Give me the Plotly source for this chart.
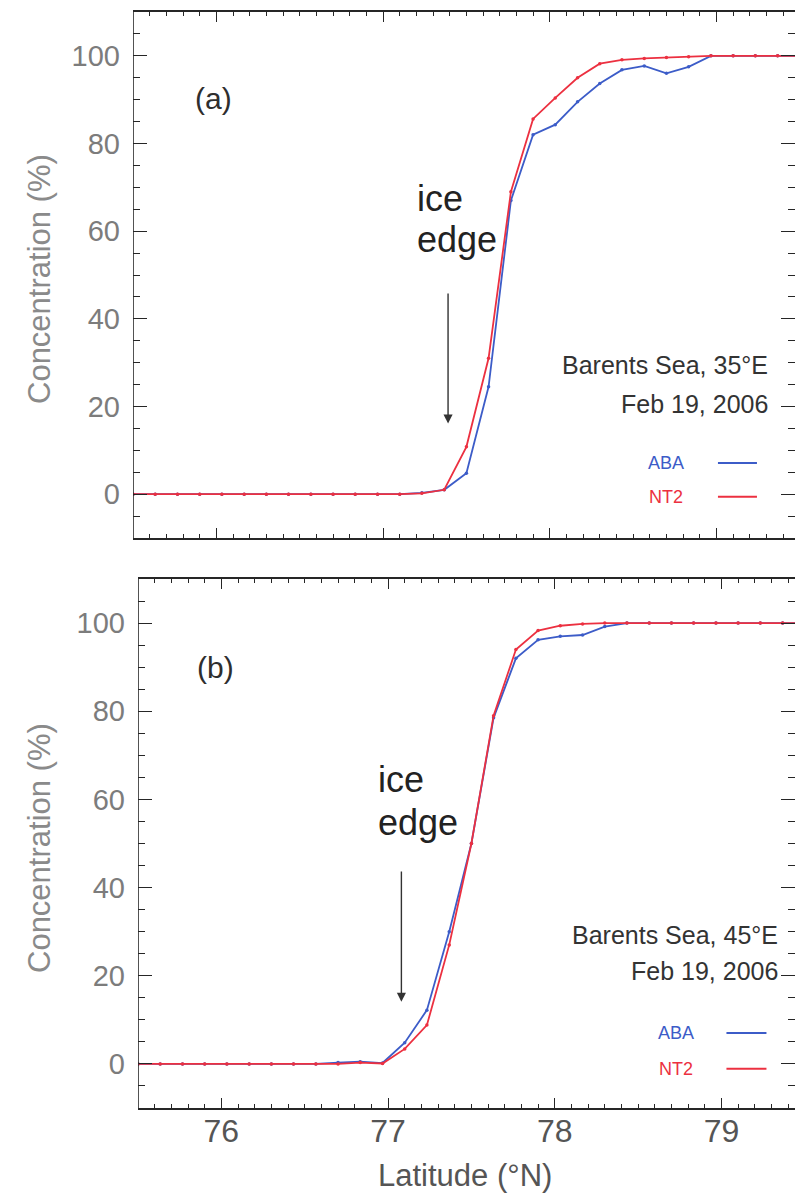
import plotly.graph_objects as go

# Latitude grid (deg N) shared by both transects
lat = [75.500, 75.633, 75.767, 75.900, 76.033, 76.167, 76.300, 76.433, 76.567, 76.700,
       76.833, 76.967, 77.100, 77.233, 77.367, 77.500, 77.633, 77.767, 77.900, 78.033,
       78.167, 78.300, 78.433, 78.567, 78.700, 78.833, 78.967, 79.100, 79.233, 79.367, 79.500]

# Panel (a): Barents Sea, 35E
aba_a = [0, 0, 0, 0, 0, 0, 0, 0, 0, 0, 0, 0, 0, 0.3, 1.0, 4.8, 24.5, 67, 82, 84.3,
         89.5, 93.7, 96.8, 97.7, 96.0, 97.5, 100, 100, 100, 100, 100]
nt2_a = [0, 0, 0, 0, 0, 0, 0, 0, 0, 0, 0, 0, 0, 0.2, 1.0, 10.8, 31, 69, 85.6, 90.4,
         95, 98.2, 99.1, 99.4, 99.6, 99.8, 100, 100, 100, 100, 100]

# Panel (b): Barents Sea, 45E
aba_b = [0, 0, 0, 0, 0, 0, 0, 0, 0, 0.3, 0.5, 0.2, 4.8, 12.2, 30, 50, 78.5, 92, 96.2, 97,
         97.3, 99.2, 100, 100, 100, 100, 100, 100, 100, 100, 100]
nt2_b = [0, 0, 0, 0, 0, 0, 0, 0, 0, 0, 0.3, 0.1, 3.4, 8.8, 27, 50, 79, 94, 98.3, 99.4,
         99.8, 100, 100, 100, 100, 100, 100, 100, 100, 100, 100]

x_ticks = [76, 77, 78, 79]
x_ticklabels = ["76", "77", "78", "79"]
y_ticks = [0, 20, 40, 60, 80, 100]
y_ticklabels = ["0", "20", "40", "60", "80", "100"]

BLUE = "#3c5cc8"
RED = "#ec3040"
INK = "#262626"
GRAY = "#7c7c7c"
FONT = "Liberation Sans, Arial, sans-serif"

W, H = 795, 1198

fig = go.Figure()

panels = [
    dict(aba=aba_a, nt2=nt2_a, xa="x", ya="y"),
    dict(aba=aba_b, nt2=nt2_b, xa="x2", ya="y2"),
]
for p in panels:
    fig.add_trace(go.Scatter(x=lat, y=p["aba"], mode="lines+markers", xaxis=p["xa"], yaxis=p["ya"],
                             line=dict(color=BLUE, width=1.8), marker=dict(size=3.5, color=BLUE),
                             showlegend=False, cliponaxis=True))
    fig.add_trace(go.Scatter(x=lat, y=p["nt2"], mode="lines+markers", xaxis=p["xa"], yaxis=p["ya"],
                             line=dict(color=RED, width=1.8), marker=dict(size=3.5, color=RED),
                             showlegend=False, cliponaxis=True))

# pixel geometry of the two plot areas
pa = dict(l=133, r=W, t=12, b=538)
pb = dict(l=138, r=W, t=579, b=1108)
pxdeg = 166.7


def xaxis_cfg(p, labels):
    return dict(
        domain=[p["l"] / W, 1.0],
        range=[75.5, 75.5 + (p["r"] - p["l"]) / pxdeg],
        tickmode="array", tickvals=x_ticks, ticktext=x_ticklabels,
        ticks="inside", ticklen=10, tickwidth=1.3, tickcolor=INK,
        minor=dict(ticks="inside", ticklen=4, tickwidth=1.1, tickcolor=INK, dtick=0.1, tick0=75.5),
        showline=True, linecolor=INK, linewidth=1.6, mirror="ticks",
        showgrid=False, zeroline=False,
        showticklabels=labels, automargin=False,
        tickfont=dict(family=FONT, size=32, color="#555555"),
        ticklabelstandoff=-6,
    )


def yaxis_cfg(p):
    return dict(
        domain=[1 - p["b"] / H, 1 - p["t"] / H],
        range=[-10, 110],
        tickmode="array", tickvals=y_ticks, ticktext=y_ticklabels,
        ticks="inside", ticklen=14, tickwidth=1.3, tickcolor=INK,
        minor=dict(ticks="inside", ticklen=7, tickwidth=1.1, tickcolor=INK, dtick=5, tick0=0),
        showline=False, mirror="ticks",
        showgrid=False, zeroline=False, automargin=False,
        tickfont=dict(family=FONT, size=29, color=GRAY),
        ticklabelstandoff=12,
    )


fig.update_layout(
    width=W, height=H,
    margin=dict(l=0, r=0, t=0, b=0, autoexpand=False),
    paper_bgcolor="white", plot_bgcolor="white",
    xaxis=dict(**xaxis_cfg(pa, False), anchor="y"),
    yaxis=dict(**yaxis_cfg(pa), anchor="x"),
    xaxis2=dict(**xaxis_cfg(pb, True), anchor="y2"),
    yaxis2=dict(**yaxis_cfg(pb), anchor="x2"),
    showlegend=False,
)

shapes = []
ann = []
for xa, ya in [("x", "y"), ("x2", "y2")]:
    # left frame line
    shapes.append(dict(type="line", xref=xa, yref=ya, x0=75.5, x1=75.5, y0=-10, y1=110,
                       line=dict(color=INK, width=1.6)))

# panel-specific text (data coordinates)
specs = [
    dict(xa="x", ya="y", tag="(a)", tagx=75.98, tagy=90.2,
         icex=77.19, icey=67.5, edgey=58.0, arx=77.39, artip=16.1, artail=46.1,
         locx=79.321, loc="Barents Sea, 35°E", locy=29.5, datey=20.5,
         legx=78.697, abay=7.1, nt2y=-0.6, lx0=79.009, lx1=79.243),
    dict(xa="x2", ya="y2", tag="(b)", tagx=75.966, tagy=90.0,
         icex=76.93, icey=64.5, edgey=54.8, arx=77.08, artip=14.1, artail=44.0,
         locx=79.35, loc="Barents Sea, 45°E", locy=29.3, datey=21.0,
         legx=78.726, abay=7.0, nt2y=-1.1, lx0=79.03, lx1=79.27),
]
for s in specs:
    xr, yr = s["xa"], s["ya"]
    ann.append(dict(x=s["tagx"], y=s["tagy"], xref=xr, yref=yr, text=s["tag"], showarrow=False,
                    font=dict(family=FONT, size=30, color="#2e2e2e")))
    ann.append(dict(x=s["icex"], y=s["icey"], xref=xr, yref=yr, text="ice", showarrow=False,
                    xanchor="left", font=dict(family=FONT, size=36, color="#222222")))
    ann.append(dict(x=s["icex"], y=s["edgey"], xref=xr, yref=yr, text="edge", showarrow=False,
                    xanchor="left", font=dict(family=FONT, size=36, color="#222222")))
    ann.append(dict(x=s["arx"], y=s["artip"], xref=xr, yref=yr, ax=s["arx"], ay=s["artail"],
                    axref=xr, ayref=yr, text="", showarrow=True, arrowhead=2, arrowsize=1.3,
                    arrowwidth=1.4, arrowcolor="#333333"))
    ann.append(dict(x=s["locx"], y=s["locy"], xref=xr, yref=yr, text=s["loc"], showarrow=False,
                    xanchor="right", font=dict(family=FONT, size=25, color="#333333")))
    ann.append(dict(x=s["locx"], y=s["datey"], xref=xr, yref=yr, text="Feb 19, 2006", showarrow=False,
                    xanchor="right", font=dict(family=FONT, size=25, color="#333333")))
    ann.append(dict(x=s["legx"], y=s["abay"], xref=xr, yref=yr, text="ABA", showarrow=False,
                    font=dict(family=FONT, size=18, color=BLUE)))
    ann.append(dict(x=s["legx"], y=s["nt2y"], xref=xr, yref=yr, text="NT2", showarrow=False,
                    font=dict(family=FONT, size=18, color=RED)))
    shapes.append(dict(type="line", xref=xr, yref=yr, x0=s["lx0"], x1=s["lx1"], y0=s["abay"], y1=s["abay"],
                       line=dict(color=BLUE, width=2)))
    shapes.append(dict(type="line", xref=xr, yref=yr, x0=s["lx0"], x1=s["lx1"], y0=s["nt2y"], y1=s["nt2y"],
                       line=dict(color=RED, width=2)))

# y axis titles
for yc in [279, 848]:
    ann.append(dict(x=40 / W, y=1 - yc / H, xref="paper", yref="paper", text="Concentration (%)",
                    xanchor="center", yanchor="middle",
                    showarrow=False, textangle=-90, font=dict(family=FONT, size=31, color="#8a8a8a")))
# x axis title
ann.append(dict(x=465 / W, y=1 - 1175 / H, xref="paper", yref="paper", text="Latitude (°N)",
                xanchor="center", yanchor="middle",
                showarrow=False, font=dict(family=FONT, size=31, color="#555555")))

fig.update_layout(shapes=shapes, annotations=ann)

fig.write_html("out.html")
